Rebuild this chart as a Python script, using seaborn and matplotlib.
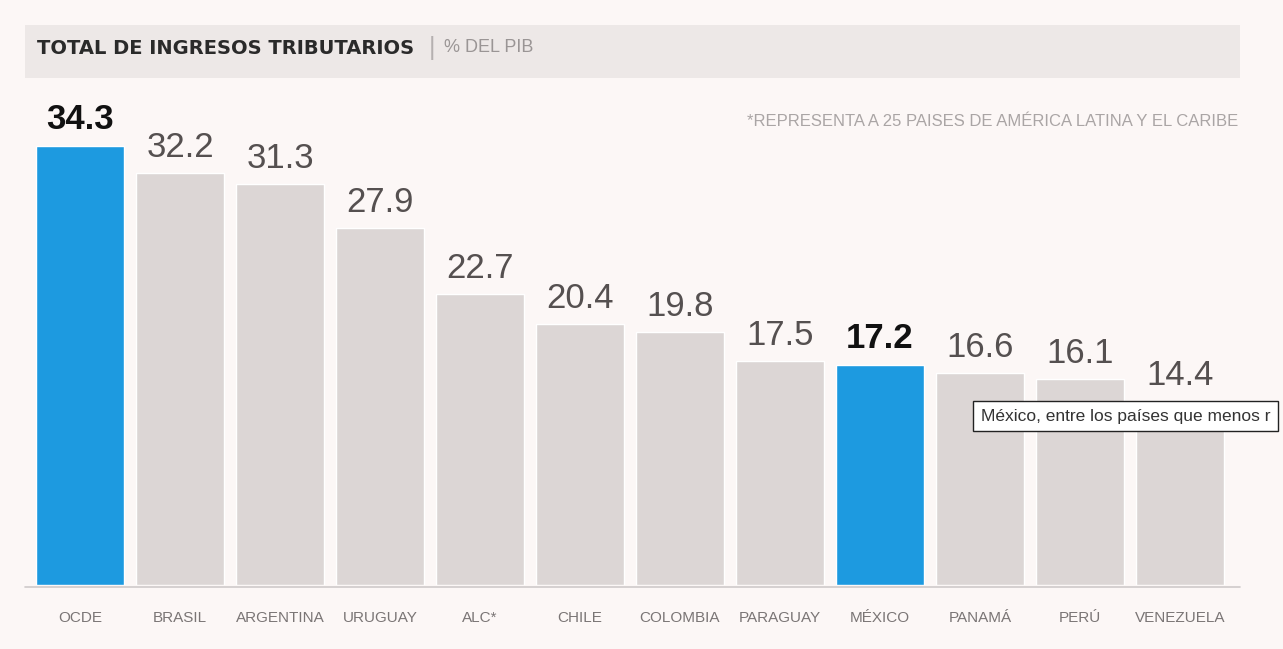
import matplotlib
matplotlib.use("Agg")
import matplotlib.pyplot as plt
import seaborn as sns
from matplotlib.patches import Rectangle

# datos
paises = ['OCDE', 'BRASIL', 'ARGENTINA', 'URUGUAY', 'ALC*', 'CHILE', 'COLOMBIA',
          'PARAGUAY', 'MÉXICO', 'PANAMÁ', 'PERÚ', 'VENEZUELA']
valores = [34.3, 32.2, 31.3, 27.9, 22.7, 20.4, 19.8, 17.5, 17.2, 16.6, 16.1, 14.4]
destacados = ['OCDE', 'MÉXICO']

titulo = 'TOTAL DE INGRESOS TRIBUTARIOS'
unidad = '% DEL PIB'
nota = '*REPRESENTA A 25 PAISES DE AMÉRICA LATINA Y EL CARIBE'
globo = 'México, entre los países que menos r'

AZUL = '#1d9ae0'
GRIS = '#dcd6d5'
FONDO = '#fcf7f6'

sns.set_style('white')
plt.rcParams['font.family'] = ['Liberation Sans', 'DejaVu Sans']

fig = plt.figure(figsize=(12.83, 6.49), dpi=100, facecolor=FONDO)
W, H = 1283, 649
ax = fig.add_axes([0, 64 / H, 1, (585 - 90) / H])
ax.set_facecolor('none')

colores = {p: (AZUL if p in destacados else GRIS) for p in paises}
sns.barplot(x=paises, y=valores, hue=paises, palette=colores, legend=False,
            width=0.88, saturation=1, ax=ax)

ax.set_xlim(-0.8, (W - 80) / 100)
ax.set_ylim(0, (585 - 90) / 12.8)
for s in ax.spines.values():
    s.set_visible(False)
ax.set_yticks([])
ax.set_xticks([])
ax.set_xlabel('')
ax.set_ylabel('')

# línea base
ax.plot([-0.55, 11.6], [-0.15, -0.15], color='#cfcaca', lw=1.2, clip_on=False)

# etiquetas de valor y de país
for i, (p, v) in enumerate(zip(paises, valores)):
    if p in destacados:
        ax.text(i, v + 0.8, f'{v:.1f}', ha='center', va='bottom', fontsize=25,
                fontweight='bold', color='#111111')
    else:
        ax.text(i, v + 0.7, f'{v:.1f}', ha='center', va='bottom', fontsize=25,
                color='#555050')
    ax.text(i, -2.6, p, ha='center', va='center', fontsize=11, color='#7a7575')

# banda del título
fig.patches.append(Rectangle((25 / W, 1 - 78 / H), (1240 - 25) / W, 53 / H,
                             transform=fig.transFigure, facecolor='#ede8e7',
                             edgecolor='none', zorder=0))
fig.text(37 / W, 1 - 48 / H, titulo, ha='left', va='center', fontsize=14,
         fontweight='bold', color='#2a2a2a', family=['DejaVu Sans'])
fig.text(432 / W, 1 - 48 / H, '|', ha='center', va='center', fontsize=18, color='#b5b0b0')
fig.text(444 / W, 1 - 48 / H, unidad, ha='left', va='center', fontsize=13, color='#9a9595')

# nota
fig.text(1238 / W, 1 - 122 / H, nota, ha='right', va='center', fontsize=12, color='#aaa5a5')

# globo de texto
fig.text(981 / W, 1 - 416 / H, globo, ha='left', va='center', fontsize=12.5, color='#333333',
         bbox=dict(boxstyle='square,pad=0.45', facecolor='white', edgecolor='#222222', lw=1))

fig.savefig('out.png', dpi=100, facecolor=FONDO)
